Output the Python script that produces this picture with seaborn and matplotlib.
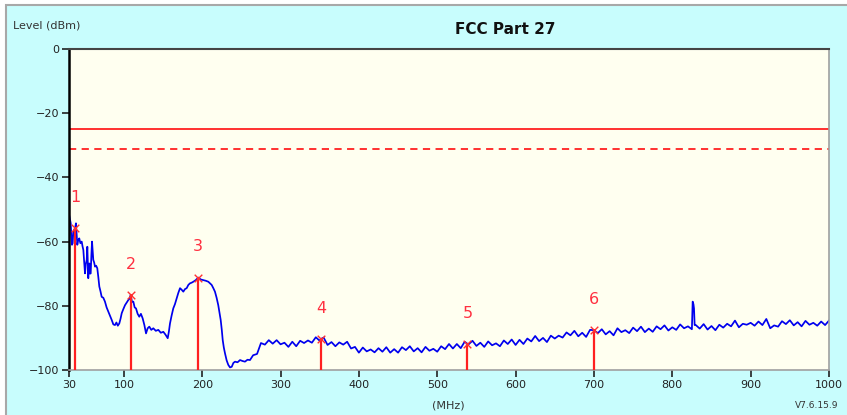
import matplotlib
matplotlib.use("Agg")
import matplotlib.pyplot as plt
import matplotlib.patches as mpatches
import seaborn as sns
import pandas as pd

# trace (MHz, dBm)
freq = [30.4, 31.5, 32.2, 33.0, 33.8, 34.7, 35.5, 36.4, 37.7, 38.9, 39.8, 40.6, 41.8, 43.1,
        44.5, 46.2, 47.3, 48.3, 49.3, 50.4, 51.5, 52.6, 53.4, 54.0, 54.6, 55.3, 55.9, 56.8,
        57.7, 58.6, 59.4, 60.2, 61.0, 62.1, 63.2, 64.6, 66.1, 67.4, 68.7, 70.2, 71.7, 73.8,
        75.9, 78.0, 80.2, 82.3, 84.5, 86.6, 88.7, 90.5, 92.3, 94.2, 95.8, 97.3, 99.4, 101.5,
        103.6, 105.7, 107.2, 108.7, 110.4, 112.1, 113.8, 115.5, 117.6, 119.7, 121.8, 124.0,
        126.2, 128.3, 130.4, 132.5, 135.0, 137.6, 140.8, 144.0, 147.2, 150.4, 153.2, 156.0,
        157.5, 158.9, 161.0, 163.1, 165.2, 167.4, 169.5, 171.7, 173.8, 175.9, 178.0, 180.2,
        182.3, 184.4, 186.5, 188.7, 191.8, 195.0, 198.2, 201.4, 204.6, 207.8, 210.0, 212.1,
        214.2, 216.3, 218.4, 220.5, 222.0, 223.6, 225.0, 226.2, 227.6, 229.1, 231.2, 233.3,
        235.5, 237.7, 239.8, 241.9, 245.1, 248.3, 251.5, 254.6, 257.8, 261.0,
        265, 270, 275, 280, 285, 290, 295, 300, 305, 310, 315, 320, 325, 330, 335, 340, 345,
        350, 351.6, 355, 360, 365, 370, 375, 380, 385, 390, 395, 400, 405, 410, 415, 420, 425,
        430, 435, 440, 445, 450, 455, 460, 465, 470, 475, 480, 485, 490, 495, 500, 505, 510,
        515, 520, 525, 530, 535, 538.4, 540, 545, 550, 555, 560, 565, 570, 575, 580, 585, 590,
        595, 600, 605, 610, 615, 620, 625, 630, 635, 640, 645, 650, 655, 660, 665, 670, 675,
        680, 685, 690, 695, 700, 705, 710, 715, 720, 725, 730, 735, 740, 745, 750, 755, 760,
        765, 770, 775, 780, 785, 790, 795, 800, 805, 810, 815, 820, 825, 826.0, 827.0, 827.7,
        828.5, 830, 835, 840, 845, 850, 855, 860, 865, 870, 875, 880, 885, 890, 895, 900, 905,
        910, 915, 920, 925, 930, 935, 940, 945, 950, 955, 960, 965, 970, 975, 980, 985, 990,
        995, 1000]
level = [-52.0, -53.5, -54.3, -58.0, -61.0, -60.5, -57.0, -56.4, -55.8, -54.3, -58.0, -61.0,
         -59.5, -59.0, -60.5, -60.0, -61.5, -62.6, -66.0, -69.9, -67.0, -65.7, -61.6, -66.0,
         -71.4, -68.0, -66.8, -70.0, -69.9, -64.0, -60.0, -63.0, -65.7, -66.5, -67.8, -67.5,
         -68.3, -71.0, -74.0, -75.5, -77.2, -77.5, -78.7, -80.5, -81.8, -83.0, -84.4, -85.8,
         -86.0, -85.2, -86.2, -85.5, -84.0, -82.3, -81.0, -79.8, -79.0, -78.2, -77.8, -76.6,
         -78.8, -78.7, -80.5, -80.8, -82.5, -83.4, -82.5, -83.9, -86.0, -88.6, -87.0, -86.5,
         -87.5, -87.0, -87.8, -87.5, -88.4, -88.1, -89.0, -90.1, -88.0, -85.5, -83.0, -80.8,
         -79.5, -77.7, -76.0, -74.5, -75.0, -75.6, -74.8, -74.5, -73.5, -73.0, -72.8, -72.5,
         -72.0, -71.2, -71.8, -72.0, -72.2, -72.5, -73.0, -73.5, -74.5, -75.6, -77.5, -79.8,
         -82.0, -84.4, -87.5, -90.7, -93.0, -94.8, -97.0, -98.4, -99.2, -99.0, -97.8, -97.4,
         -97.6, -96.9, -97.2, -97.4, -96.8, -96.9,
         -95.4, -95.0, -91.6, -92.1, -90.7, -91.8, -90.7, -92.0, -91.5, -92.8, -91.2, -92.6,
         -90.9, -91.6, -90.8, -91.5, -89.8, -90.9, -90.3, -89.9, -92.2, -91.3, -92.6, -91.4,
         -92.1, -91.2, -93.3, -92.8, -94.6, -93.0, -94.2, -93.6, -94.5, -93.2, -94.3, -92.9,
         -94.6, -93.5, -94.6, -92.9, -93.8, -92.6, -94.2, -93.2, -94.5, -92.8, -94.0, -93.4,
         -94.3, -92.6, -93.5, -91.9, -93.3, -91.9, -93.2, -91.2, -91.8, -92.0, -90.9, -92.5,
         -91.5, -92.8, -91.1, -92.3, -91.7, -92.6, -90.8, -91.9, -90.5, -92.2, -90.6, -91.9,
         -90.2, -91.1, -89.4, -91.0, -90.0, -91.3, -89.3, -90.2, -89.3, -89.9, -88.3, -89.2,
         -87.8, -89.5, -88.4, -89.7, -87.5, -87.6, -88.5, -87.3, -88.9, -87.9, -89.2, -87.0,
         -88.2, -87.6, -88.5, -86.8, -87.9, -86.5, -88.2, -87.1, -88.1, -86.4, -87.3, -86.1,
         -87.7, -86.7, -87.5, -85.8, -87.0, -86.4, -87.3, -78.7, -79.5, -80.8, -86.0, -86.0,
         -87.1, -85.7, -87.4, -86.3, -87.6, -85.9, -86.8, -85.6, -86.4, -84.6, -86.7, -85.6,
         -85.9, -85.3, -86.2, -84.9, -86.0, -84.1, -87.0, -86.1, -86.5, -84.8, -85.7, -84.5,
         -86.1, -85.1, -86.4, -84.7, -85.9, -85.3, -86.2, -84.9, -86.0, -84.6]

# peak markers
mk_freq = [37.7, 108.7, 195.0, 351.6, 538.4, 700.0]
mk_level = [-55.8, -76.6, -71.2, -90.3, -91.8, -87.6]
mk_label = ["1", "2", "3", "4", "5", "6"]

limit = -25
margin = -31

x_ticks = [30, 100, 200, 300, 400, 500, 600, 700, 800, 900, 1000]
y_ticks = [0, -20, -40, -60, -80, -100]

trace = pd.DataFrame({"freq": freq, "level": level})
peaks = pd.DataFrame({"freq": mk_freq, "level": mk_level})

fig = plt.figure(figsize=(8.47, 4.15), dpi=100, facecolor="white")
fig.patches.append(mpatches.Rectangle((6 / 847, -0.01), 1.0, 1 - 5 / 415 + 0.01,
                                      transform=fig.transFigure, facecolor="#c8fdfd",
                                      edgecolor="#a8a8a8", linewidth=1.5, zorder=-5))
ax = fig.add_axes([69 / 847, 1 - 370 / 415, 760 / 847, 321 / 415])
ax.set_facecolor("#fffff0")

ax.axhline(limit, color="#ff2020", lw=1.3)
ax.axhline(margin, color="#ff2020", lw=1.3, ls=(0, (4, 3)))

sns.lineplot(data=trace, x="freq", y="level", color="#0000ee", lw=1.25, ax=ax,
             estimator=None, sort=False)

ax.vlines(mk_freq, -100, mk_level, color="#ff2020", lw=1.6, zorder=3)
sns.scatterplot(data=peaks, x="freq", y="level", marker="x", color="#ff3030",
                s=30, linewidth=1.0, ax=ax, zorder=4)
for f, v, t in zip(mk_freq, mk_level, mk_label):
    ax.annotate(t, (f, v), xytext=(0, 22), textcoords="offset points",
                ha="center", va="center", color="#ff3040", fontsize=11.5)

ax.set_xlim(30, 1000)
ax.set_ylim(-100, 0)
ax.set_xticks(x_ticks)
ax.set_yticks(y_ticks)
ax.tick_params(direction="out", length=5, width=1.2, colors="#222222",
               labelsize=8, pad=2)
ax.set_xlabel("")
ax.set_ylabel("")
for side, c, w in [("left", "black", 1.8), ("top", "#444444", 1.5),
                   ("right", "#a0a0a0", 1.2), ("bottom", "#a0a0a0", 1.2)]:
    ax.spines[side].set_color(c)
    ax.spines[side].set_linewidth(w)

fig.text(448 / 847, 1 - 405 / 415, "(MHz)", ha="center", va="center",
         fontsize=8, color="#333333")
fig.text(13 / 847, 1 - 26 / 415, "Level (dBm)", ha="left", va="center",
         fontsize=8, color="#333333")
fig.text(505 / 847, 1 - 30 / 415, "FCC Part 27", ha="center", va="center",
         fontsize=11, fontweight="bold", color="#111111")
fig.text(838 / 847, 1 - 405 / 415, "V7.6.15.9", ha="right", va="center",
         fontsize=6.5, color="#333333")

fig.savefig("out.png", dpi=100, facecolor=fig.get_facecolor())
